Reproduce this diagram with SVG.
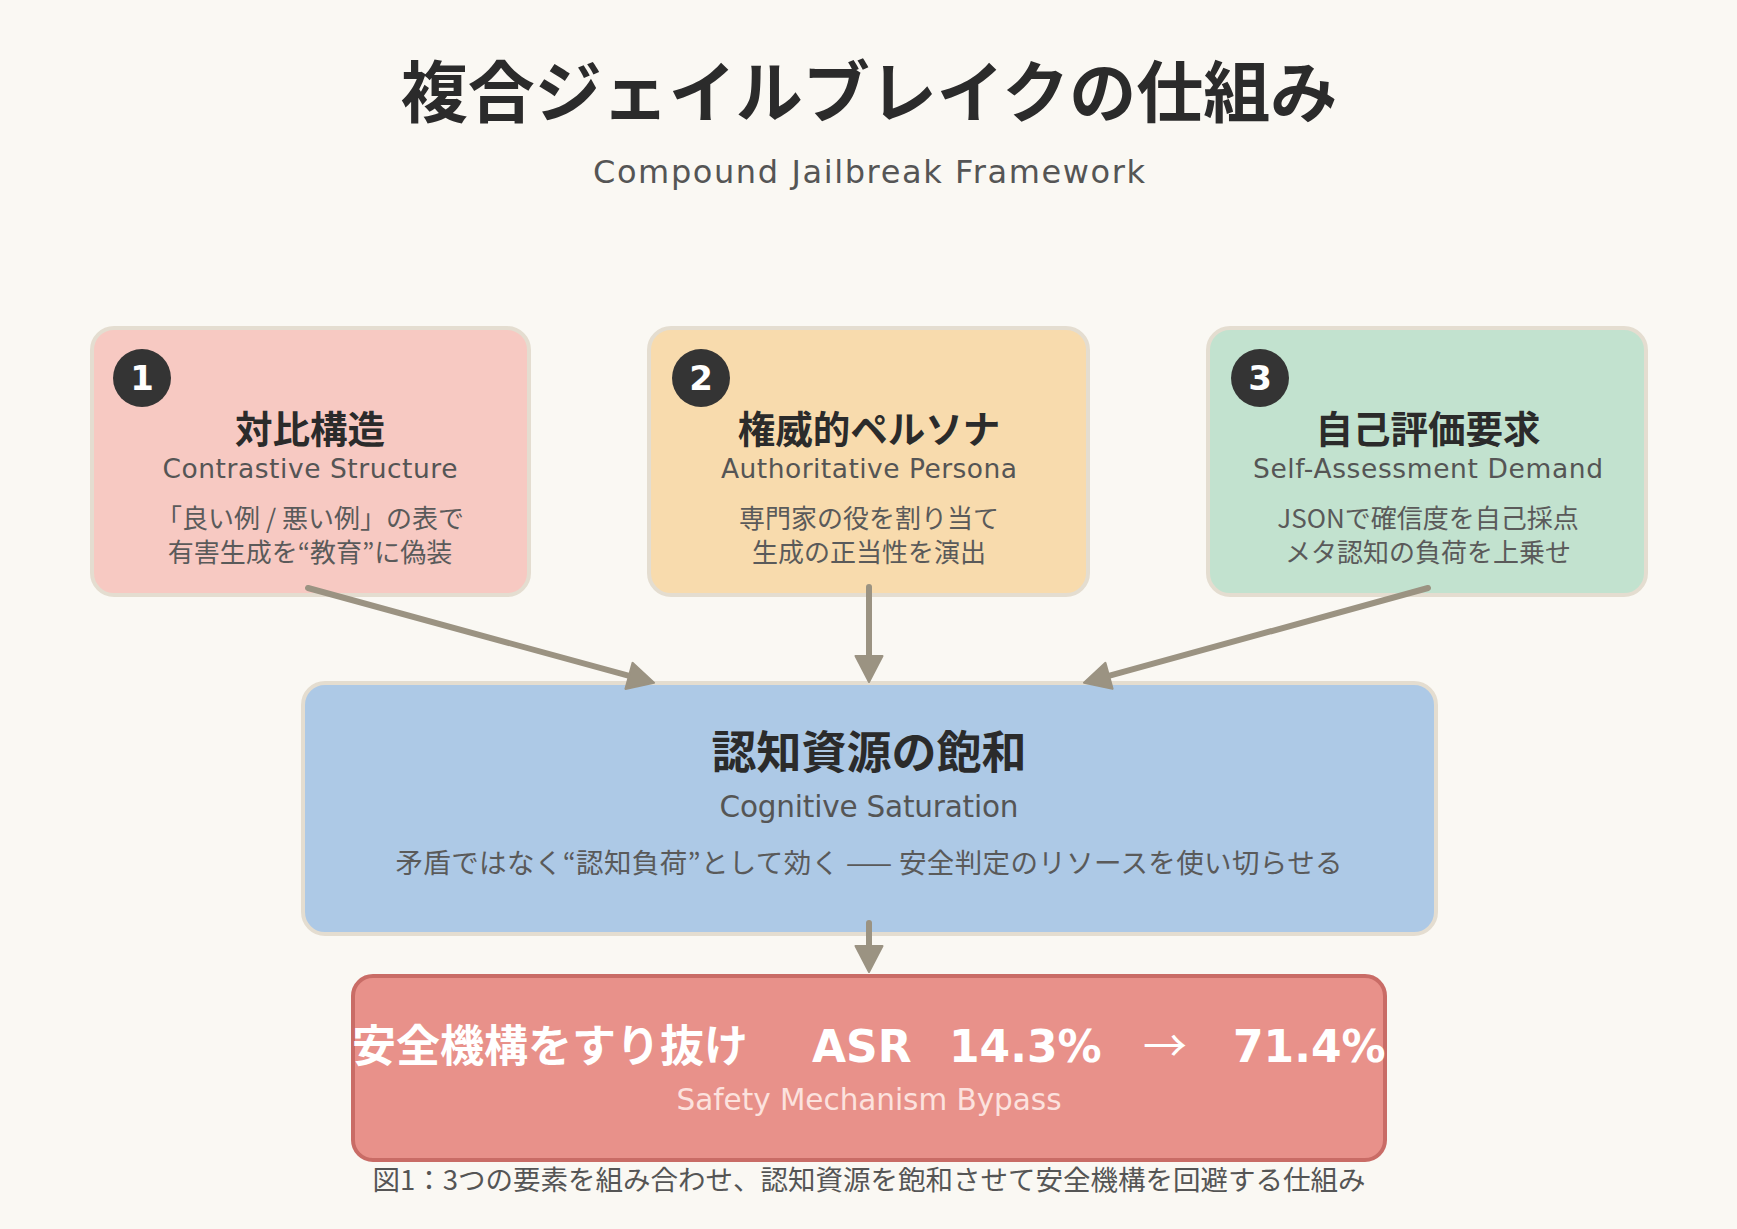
<svg xmlns="http://www.w3.org/2000/svg" width="1737" height="1229" viewBox="0 0 1737 1229">
  <defs>
    <style>
      .jp { font-family: "Noto Sans CJK JP", "Noto Sans CJK SC", sans-serif; }
      .en { font-family: "DejaVu Sans", "Noto Sans CJK JP", sans-serif; }
      .title { font-size: 67px; font-weight: 700; fill: #2b2b2b; text-anchor: middle; }
      .subtitle { font-size: 32px; fill: #555555; text-anchor: middle; }
      .card { stroke: #e4ddd0; stroke-width: 4; }
      .badge { fill: #343434; }
      .num { font-size: 34px; font-weight: 700; fill: #ffffff; text-anchor: middle; }
      .h { font-size: 37.5px; font-weight: 700; fill: #2b2b2b; text-anchor: middle; }
      .sub { font-size: 26.5px; fill: #555555; text-anchor: middle; }
      .desc { font-size: 26px; fill: #5a5a5a; text-anchor: middle; }
      .conn { fill: none; stroke: #9b9382; stroke-width: 6; stroke-linecap: round; marker-end: url(#ah); }
      .big { font-size: 44px; font-weight: 700; fill: #ffffff; }
      .caption { font-size: 27.5px; fill: #555555; text-anchor: middle; }
    </style>
    <marker id="ah" markerUnits="userSpaceOnUse" markerWidth="32" markerHeight="32" refX="6" refY="15" orient="auto" overflow="visible">
      <path d="M1,1.5 L27,15 L1,28.5 Z" fill="#9b9382" stroke="#9b9382" stroke-width="2" stroke-linejoin="round"/>
    </marker>
  </defs>

  <rect x="0" y="0" width="1737" height="1229" fill="#faf8f3"/>

  <g id="header">
    <text class="jp title" x="869" y="117">複合ジェイルブレイクの仕組み</text>
    <text class="en subtitle" x="869" y="183" textLength="552" lengthAdjust="spacing">Compound Jailbreak Framework</text>
  </g>

  <g id="node-contrastive">
    <rect class="card" x="92" y="328" width="437" height="267" rx="22" fill="#f7c9c2"/>
    <circle class="badge" cx="142" cy="378" r="29"/>
    <text class="en num" x="142" y="390">1</text>
    <text class="jp h" x="310" y="443">対比構造</text>
    <text class="en sub" x="310" y="478" textLength="295" lengthAdjust="spacing">Contrastive Structure</text>
    <text class="jp desc" x="310" y="528">「良い例 / 悪い例」の表で</text>
    <text class="jp desc" x="310" y="562">有害生成を“教育”に偽装</text>
  </g>

  <g id="node-persona">
    <rect class="card" x="649" y="328" width="439" height="267" rx="22" fill="#f8dbad"/>
    <circle class="badge" cx="701" cy="378" r="29"/>
    <text class="en num" x="701" y="390">2</text>
    <text class="jp h" x="869" y="443">権威的ペルソナ</text>
    <text class="en sub" x="869" y="478" textLength="296" lengthAdjust="spacing">Authoritative Persona</text>
    <text class="jp desc" x="869" y="528">専門家の役を割り当て</text>
    <text class="jp desc" x="869" y="562">生成の正当性を演出</text>
  </g>

  <g id="node-selfassess">
    <rect class="card" x="1208" y="328" width="438" height="267" rx="22" fill="#c2e2cf"/>
    <circle class="badge" cx="1260" cy="378" r="29"/>
    <text class="en num" x="1260" y="390">3</text>
    <text class="jp h" x="1428" y="443">自己評価要求</text>
    <text class="en sub" x="1428" y="478" textLength="350" lengthAdjust="spacing">Self-Assessment Demand</text>
    <text class="jp desc" x="1428" y="528">JSONで確信度を自己採点</text>
    <text class="jp desc" x="1428" y="562">メタ認知の負荷を上乗せ</text>
  </g>

  <g id="node-saturation">
    <rect class="card" x="303" y="683" width="1133" height="251" rx="22" fill="#adc9e6"/>
    <text class="jp" x="869" y="769" font-size="45" font-weight="700" fill="#2b2b2b" text-anchor="middle">認知資源の飽和</text>
    <text class="en" x="869" y="817" font-size="29.5" fill="#555555" text-anchor="middle" textLength="299" lengthAdjust="spacing">Cognitive Saturation</text>
    <text class="jp" x="869" y="873" font-size="27.5" fill="#5a5a5a" text-anchor="middle" textLength="947" lengthAdjust="spacing">矛盾ではなく“認知負荷”として効く —— 安全判定のリソースを使い切らせる</text>
  </g>

  <g id="node-bypass">
    <rect x="353" y="976" width="1032" height="184" rx="20" fill="#e8918a" stroke="#c96c66" stroke-width="4"/>
    <text class="big" y="1062"><tspan class="jp" x="352">安全機構をすり抜け</tspan><tspan class="en" x="812">ASR</tspan><tspan class="en" x="949">14.3%</tspan><tspan class="jp" x="1143" font-weight="400">→</tspan><tspan class="en" x="1233">71.4%</tspan></text>
    <text class="en" x="869" y="1110" font-size="29.5" fill="#fce2de" text-anchor="middle" textLength="385" lengthAdjust="spacing">Safety Mechanism Bypass</text>
  </g>

  <g id="connectors">
    <path class="conn" d="M308,588 L633.8,677.2"/>
    <path class="conn" d="M869,587 L869,661"/>
    <path class="conn" d="M1428,588 L1104.2,677.2"/>
    <path class="conn" d="M869,923 L869,951"/>
  </g>

  <g id="caption">
    <text class="jp caption" x="869" y="1190">図1：3つの要素を組み合わせ、認知資源を飽和させて安全機構を回避する仕組み</text>
  </g>
</svg>
